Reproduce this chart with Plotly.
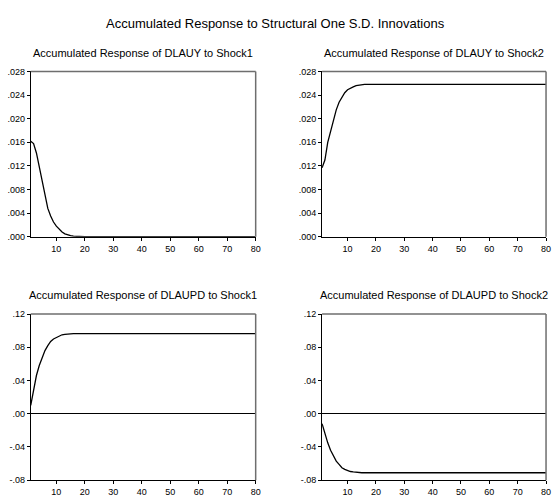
import plotly.graph_objects as go

periods = list(range(1, 81))

dlauy_shock1 = [0.0162, 0.0158, 0.0142, 0.0118, 0.0090, 0.0066, 0.0048, 0.0035, 0.0025, 0.0018,
                0.0012, 0.0008, 0.0005, 0.0003, 0.0002, 0.0001, 0.00005, 0.00002] + [0.0] * 62
dlauy_shock2 = [0.0117, 0.0130, 0.0160, 0.0180, 0.0200, 0.0215, 0.0228, 0.0237, 0.0244, 0.0249,
                0.0252, 0.0254, 0.0256, 0.0257, 0.0257] + [0.0258] * 65
dlaupd_shock1 = [0.010, 0.030, 0.046, 0.058, 0.068, 0.076, 0.082, 0.087, 0.090, 0.092,
                 0.094, 0.095, 0.0955, 0.096, 0.0963] + [0.0965] * 65
dlaupd_shock2 = [-0.012, -0.024, -0.035, -0.044, -0.051, -0.057, -0.061, -0.065, -0.067, -0.0685,
                 -0.0695, -0.070, -0.0705] + [-0.071] * 67

main_title = "Accumulated Response to Structural One S.D. Innovations"
panel_titles = ["Accumulated Response of DLAUY to Shock1",
                "Accumulated Response of DLAUY to Shock2",
                "Accumulated Response of DLAUPD to Shock1",
                "Accumulated Response of DLAUPD to Shock2"]

x_tickvals = [10, 20, 30, 40, 50, 60, 70, 80]
x_ticktext = ["10", "20", "30", "40", "50", "60", "70", "80"]
top_tickvals = [0.000, 0.004, 0.008, 0.012, 0.016, 0.020, 0.024, 0.028]
top_ticktext = [".000", ".004", ".008", ".012", ".016", ".020", ".024", ".028"]
bot_tickvals = [-0.08, -0.04, 0.00, 0.04, 0.08, 0.12]
bot_ticktext = ["-.08", "-.04", ".00", ".04", ".08", ".12"]

W, H = 555, 497
FONT = "Liberation Sans, Arial, sans-serif"

# plot boxes in pixels (left, right, top, bottom)
boxes = [(31, 258, 68, 237), (325, 551, 68, 237), (31, 258, 316, 486), (325, 551, 316, 486)]
series = [dlauy_shock1, dlauy_shock2, dlaupd_shock1, dlaupd_shock2]

fig = go.Figure()
shapes = []
annotations = [dict(text=main_title, x=277.5 / W, y=1 - 19 / H, xref="paper", yref="paper",
                    showarrow=False, font=dict(family=FONT, size=13, color="black"),
                    xanchor="center", yanchor="middle")]

for i, (box, ys) in enumerate(zip(boxes, series)):
    l, r, t, b = box
    n = i + 1
    xa = "x" if n == 1 else f"x{n}"
    ya = "y" if n == 1 else f"y{n}"
    fig.add_trace(go.Scatter(x=periods, y=ys, mode="lines", xaxis=xa, yaxis=ya,
                             line=dict(color="black", width=1.3), showlegend=False,
                             hoverinfo="skip"))
    top = i < 2
    xkey = "xaxis" if n == 1 else f"xaxis{n}"
    ykey = "yaxis" if n == 1 else f"yaxis{n}"
    fig.layout[xkey] = dict(domain=[l / W, r / W], range=[1, 80], anchor=ya,
                            tickvals=x_tickvals, ticktext=x_ticktext,
                            ticks="outside", ticklen=3, tickwidth=1, tickcolor="black",
                            showline=True, linecolor="black", linewidth=1,
                            showgrid=False, zeroline=False,
                            tickfont=dict(family=FONT, size=9, color="black"))
    fig.layout[ykey] = dict(domain=[1 - b / H, 1 - t / H],
                            range=[0, 0.028] if top else [-0.08, 0.12], anchor=xa,
                            tickvals=top_tickvals if top else bot_tickvals,
                            ticktext=top_ticktext if top else bot_ticktext,
                            ticks="outside", ticklen=3, tickwidth=1, tickcolor="black",
                            showline=True, linecolor="black", linewidth=1,
                            showgrid=False, zeroline=not top, zerolinecolor="black",
                            zerolinewidth=1,
                            tickfont=dict(family=FONT, size=9, color="black"))
    # top and right frame lines (gray)
    shapes.append(dict(type="line", xref="paper", yref="paper", x0=l / W, x1=r / W,
                       y0=1 - t / H, y1=1 - t / H, line=dict(color="#6e6e6e", width=1.5)))
    shapes.append(dict(type="line", xref="paper", yref="paper", x0=r / W, x1=r / W,
                       y0=1 - b / H, y1=1 - t / H, line=dict(color="#6e6e6e", width=1.5)))
    annotations.append(dict(text=panel_titles[i], x=(l + r) / 2 / W, y=1 - (t - 19) / H,
                            xref="paper", yref="paper", showarrow=False,
                            font=dict(family=FONT, size=11, color="black"),
                            xanchor="center", yanchor="middle"))

fig.update_layout(width=W, height=H, margin=dict(l=0, r=0, t=0, b=0),
                  paper_bgcolor="white", plot_bgcolor="white",
                  shapes=shapes, annotations=annotations)

fig.write_html("out.html", config={"displayModeBar": False, "staticPlot": True},
               post_script="document.body.style.margin='0';document.body.style.overflow='hidden';")
